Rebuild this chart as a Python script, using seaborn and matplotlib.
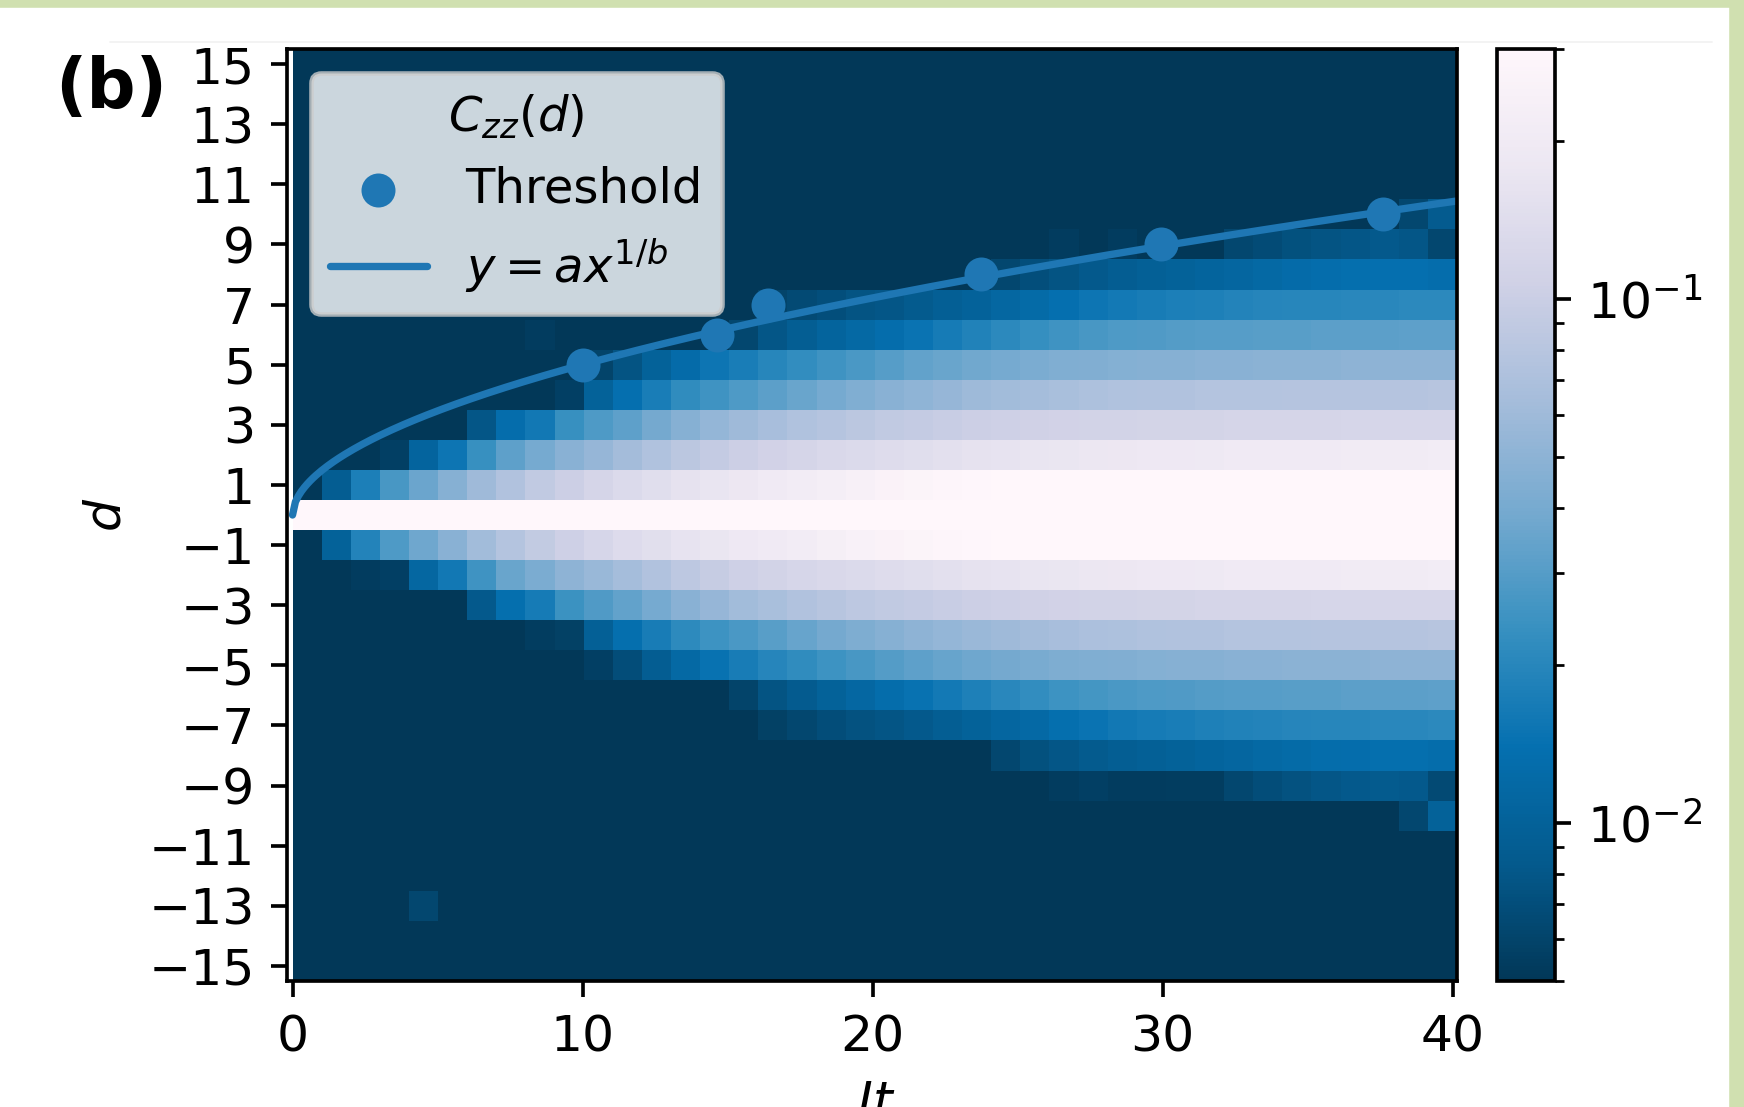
import numpy as np
import pandas as pd
import matplotlib
matplotlib.use("Agg")
import matplotlib.pyplot as plt
import seaborn as sns
from matplotlib.colors import LogNorm
from matplotlib.patches import Rectangle
from matplotlib.lines import Line2D

# --- data ---
d_rows = list(range(15, -16, -1))      # distance d, top row first
t_bins = list(range(0, 40))            # Jt bins [i, i+1)

F = -3.0  # below the colour floor (dark)

# log10 C_zz(d, Jt), one value per unit of Jt
row_0 = [-0.40] * 40
row_p1 = [F, -2.05, -1.75, -1.57, -1.44, -1.33, -1.22, -1.13, -1.05, -0.99,
          -0.93, -0.88, -0.84, -0.80, -0.77, -0.74, -0.71, -0.68, -0.65, -0.62,
          -0.59, -0.57, -0.55, -0.53, -0.52, -0.51, -0.50, -0.50, -0.49, -0.49,
          -0.48, -0.48, -0.48, -0.47, -0.47, -0.47, -0.46, -0.46, -0.46, -0.46]
row_m1 = [F, -2.00, -1.72, -1.55, -1.43, -1.32, -1.21, -1.12, -1.04, -0.98,
          -0.92, -0.87, -0.83, -0.79, -0.76, -0.73, -0.70, -0.67, -0.64, -0.61,
          -0.59, -0.57, -0.55, -0.53, -0.52, -0.51, -0.50, -0.50, -0.49, -0.49,
          -0.48, -0.48, -0.48, -0.47, -0.47, -0.47, -0.46, -0.46, -0.46, -0.46]
row_p2 = [F] * 3 + [-2.25, -1.97, -1.82, -1.63, -1.49, -1.40, -1.32, -1.26, -1.20,
                    -1.14, -1.08, -1.03, -0.99, -0.96, -0.93, -0.90, -0.88, -0.86,
                    -0.84, -0.82, -0.80, -0.79, -0.77, -0.76, -0.75, -0.74, -0.73,
                    -0.73, -0.72, -0.71, -0.71, -0.70, -0.70, -0.69, -0.69, -0.69,
                    -0.68]
row_m2 = [F, F, -2.27, -2.25, -1.95, -1.80, -1.60, -1.45, -1.38, -1.30,
          -1.25, -1.19, -1.13, -1.07, -1.02, -0.98, -0.95, -0.92, -0.90, -0.88,
          -0.86, -0.84, -0.82, -0.80, -0.79, -0.77, -0.76, -0.75, -0.74, -0.73,
          -0.73, -0.72, -0.71, -0.71, -0.70, -0.70, -0.69, -0.69, -0.69, -0.68]
row_p3 = [F] * 6 + [-2.10, -1.88, -1.80, -1.63, -1.55, -1.49, -1.41, -1.33, -1.27,
                    -1.22, -1.18, -1.14, -1.11, -1.08, -1.05, -1.03, -1.01, -0.99,
                    -0.98, -0.97, -0.96, -0.95, -0.95, -0.94, -0.94, -0.94, -0.93,
                    -0.93, -0.93, -0.93, -0.92, -0.92, -0.92, -0.92]
row_m3 = [F] * 6 + [-2.08, -1.87, -1.78, -1.62, -1.54, -1.48, -1.40, -1.32, -1.26,
                    -1.21, -1.17, -1.13, -1.10, -1.07, -1.05, -1.03, -1.01, -0.99,
                    -0.98, -0.97, -0.96, -0.95, -0.95, -0.94, -0.94, -0.93, -0.93,
                    -0.93, -0.93, -0.92, -0.92, -0.92, -0.92, -0.92]
row_p4 = [F] * 9 + [-2.25, -2.00, -1.86, -1.76, -1.66, -1.60, -1.55, -1.50, -1.45,
                    -1.40, -1.36, -1.32, -1.29, -1.26, -1.23, -1.21, -1.19, -1.17,
                    -1.15, -1.14, -1.13, -1.13, -1.12, -1.12, -1.12, -1.11, -1.11,
                    -1.11, -1.11, -1.11, -1.10]
row_m4 = [F] * 8 + [-2.26, -2.24, -2.02, -1.87, -1.77, -1.67, -1.61, -1.56, -1.51,
                    -1.46, -1.41, -1.37, -1.33, -1.30, -1.27, -1.24, -1.22, -1.20,
                    -1.18, -1.16, -1.15, -1.14, -1.13, -1.13, -1.12, -1.12, -1.12,
                    -1.11, -1.11, -1.11, -1.11, -1.10]
row_p5 = [F] * 10 + [-2.22, -2.12, -2.00, -1.90, -1.82, -1.76, -1.70, -1.65, -1.60,
                     -1.56, -1.52, -1.48, -1.45, -1.42, -1.40, -1.38, -1.36, -1.35,
                     -1.34, -1.33, -1.33, -1.32, -1.32, -1.31, -1.31, -1.31, -1.30,
                     -1.30, -1.30, -1.30]
row_m5 = [F] * 10 + [-2.25, -2.16, -2.05, -1.93, -1.84, -1.77, -1.71, -1.66, -1.61,
                     -1.57, -1.53, -1.49, -1.46, -1.43, -1.41, -1.39, -1.37, -1.36,
                     -1.35, -1.34, -1.33, -1.33, -1.32, -1.32, -1.31, -1.31, -1.31,
                     -1.30, -1.30, -1.30]
row_p6 = [F] * 8 + [-2.27] + [F] * 6 + [-2.20, -2.10, -2.04, -1.98, -1.93, -1.88,
                                        -1.83, -1.78, -1.73, -1.68, -1.64, -1.60,
                                        -1.57, -1.55, -1.54, -1.53, -1.52, -1.52,
                                        -1.51, -1.51, -1.50, -1.50, -1.50, -1.49,
                                        -1.49]
row_m6 = [F] * 15 + [-2.22, -2.12, -2.06, -2.00, -1.94, -1.89, -1.84, -1.79, -1.74,
                     -1.69, -1.65, -1.61, -1.58, -1.56, -1.55, -1.54, -1.53, -1.52,
                     -1.52, -1.51, -1.51, -1.50, -1.50, -1.50, -1.49]
row_p7 = [F] * 16 + [-2.22, -2.18, -2.15, -2.12, -2.10, -2.07, -2.03, -1.99, -1.95,
                     -1.91, -1.86, -1.82, -1.79, -1.77, -1.75, -1.74, -1.72, -1.71,
                     -1.70, -1.70, -1.69, -1.69, -1.68, -1.68]
row_m7 = [F] * 16 + [-2.24, -2.20, -2.16, -2.13, -2.11, -2.08, -2.04, -2.00, -1.96,
                     -1.92, -1.87, -1.83, -1.80, -1.78, -1.76, -1.74, -1.73, -1.72,
                     -1.71, -1.70, -1.70, -1.69, -1.69, -1.68]
row_p8 = [F] * 24 + [-2.20, -2.15, -2.12, -2.08, -2.05, -2.02, -2.00, -1.98, -1.96,
                     -1.93, -1.90, -1.88, -1.87, -1.86, -1.86, -1.88]
row_m8 = [F] * 24 + [-2.20, -2.14, -2.10, -2.07, -2.04, -2.02, -2.00, -1.98,
                     -1.96, -1.93, -1.91, -1.89, -1.88, -1.87, -1.87, -1.89]
row_p9 = [F] * 26 + [-2.27, F, -2.27, F, F, F, -2.20, -2.17, -2.14, -2.12, -2.10,
                     -2.08, -2.10, -2.20]
row_m9 = [F] * 26 + [-2.27, -2.25, -2.27, -2.27, -2.26, -2.26, -2.20, -2.16, -2.13,
                     -2.10, -2.08, -2.07, -2.08, -2.18]
row_p10 = [F] * 38 + [-2.20, -2.06]
row_m10 = [F] * 38 + [-2.20, -2.00]
row_m13 = [F] * 4 + [-2.20] + [F] * 35
dark_row = [F] * 40

# threshold points and fit y = a x^(1/b)
thr_t = [10.0, 14.65, 16.4, 23.75, 29.95, 37.6]
thr_d = [5, 6, 7, 8, 9, 10]
fit_a = 1.476
fit_b = 1.887

heat_rows = ([dark_row] * 5
             + [row_p10, row_p9, row_p8, row_p7, row_p6, row_p5, row_p4, row_p3, row_p2, row_p1]
             + [row_0]
             + [row_m1, row_m2, row_m3, row_m4, row_m5, row_m6, row_m7, row_m8, row_m9, row_m10]
             + [dark_row, dark_row, row_m13, dark_row, dark_row])
assert all(len(r) == 40 for r in heat_rows) and len(heat_rows) == 31
df = pd.DataFrame(10.0 ** np.array(heat_rows), index=d_rows, columns=t_bins)

# --- style ---
sns.set_style("ticks", {"axes.edgecolor": "black", "text.color": "black",
                        "axes.labelcolor": "black", "xtick.color": "black",
                        "ytick.color": "black"})
plt.rcParams["font.family"] = ["DejaVu Sans"]
plt.rcParams["font.size"] = 11
plt.rcParams["xtick.major.size"] = 3.5
plt.rcParams["ytick.major.size"] = 3.5
plt.rcParams["axes.linewidth"] = 0.8

W, H, DPI = 1744, 1107, 330
fig = plt.figure(figsize=(W / DPI, H / DPI), dpi=DPI)

xlim = (-0.19, 40.15)
ylim = (-15.5, 15.5)
ax_l, ax_r, ax_t, ax_b = 287 / W, 1457 / W, 1 - 49 / H, 1 - 981 / H
ax_w, ax_hgt = ax_r - ax_l, ax_t - ax_b

# heatmap axes sits under the overlay, covering Jt from 0 to the right edge
hx0 = ax_l + ax_w * (0 - xlim[0]) / (xlim[1] - xlim[0])
ax_h = fig.add_axes([hx0, ax_b, ax_r - hx0, ax_hgt])
cax = fig.add_axes([1497 / W, ax_b, 58 / W, ax_hgt])

sns.heatmap(df, ax=ax_h, cmap="PuBu_r", norm=LogNorm(vmin=5e-3, vmax=0.3),
            cbar_ax=cax, xticklabels=False, yticklabels=False)
ax_h.set_axis_off()
cb = ax_h.collections[0].colorbar
cb.outline.set_visible(True)
cb.outline.set_linewidth(0.8)
cb.outline.set_edgecolor("black")
cax.tick_params(which="major", length=3.5, width=0.8, labelsize=11)
cax.tick_params(which="minor", length=2, width=0.6)

ax = fig.add_axes([ax_l, ax_b, ax_w, ax_hgt])
ax.set_facecolor("none")

t_fit = np.linspace(0, xlim[1], 400)
d_fit = fit_a * t_fit ** (1 / fit_b)

sns.scatterplot(x=thr_t, y=thr_d, ax=ax, s=55, color="#1f77b4",
                linewidth=0, label="Threshold", zorder=3)
sns.lineplot(x=t_fit, y=d_fit, ax=ax, color="#1f77b4", lw=1.6,
             label=r"$y = ax^{1/b}$", zorder=2)

ax.set_xlim(*xlim)
ax.set_ylim(*ylim)
ax.set_xticks([0, 10, 20, 30, 40])
ax.set_yticks(np.arange(-15, 16, 2))
ax.tick_params(labelsize=11)
ax.set_xlabel("$Jt$", fontsize=11)
ax.set_ylabel("$d$", fontsize=11)
for s in ax.spines.values():
    s.set_linewidth(0.8)

handles, labels = ax.get_legend_handles_labels()
ax.legend(handles, labels, title=r"$C_{zz}(d)$", loc="upper left",
          frameon=True, framealpha=0.8, fontsize=10.5, title_fontsize=10.5)

fig.text(55 / W, 1 - 108 / H, "(b)", fontsize=15, fontweight="bold",
         ha="left", va="baseline")

# page frame seen around the crop
fig.patches.append(Rectangle((0, 1 - 5 / H), 1, 5 / H, transform=fig.transFigure,
                             color="#d0e0b0", zorder=0))
fig.patches.append(Rectangle((1731 / W, 0), 13 / W, 1, transform=fig.transFigure,
                             color="#d0e0b0", zorder=0))
fig.lines.append(Line2D([110 / W, 1712 / W], [1 - 42 / H] * 2, transform=fig.transFigure,
                        color="#f2f2f2", lw=0.4))

fig.savefig("out.png", dpi=DPI)
